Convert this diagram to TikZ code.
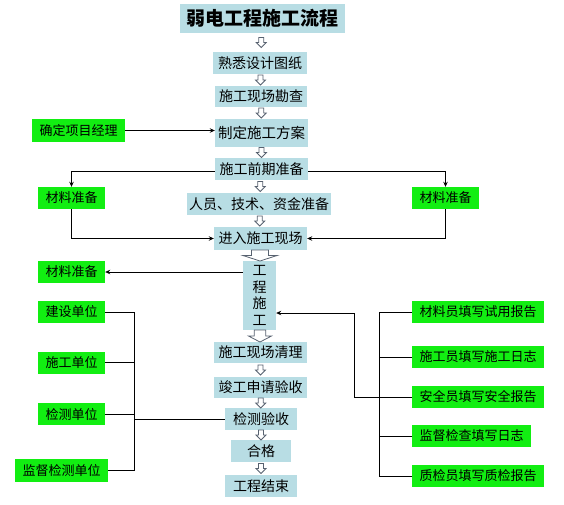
\documentclass[tikz,border=0pt]{standalone}
\usepackage{fontspec}
\usepackage{tikz}
\usetikzlibrary{positioning,calc,arrows.meta}
\usepackage{xcolor}
\newfontfamily\cjk{Noto Sans CJK SC}
\definecolor{boxblue}{RGB}{184,221,228}
\definecolor{notegreen}{RGB}{18,238,18}
\definecolor{arrowgray}{RGB}{88,98,112}
\tikzset{
  flowbox/.style={fill=boxblue,inner sep=0pt,font=\cjk\fontsize{14pt}{16.7pt}\selectfont},
  notebox/.style={fill=notegreen,inner sep=0pt,font=\cjk\fontsize{13pt}{15pt}\selectfont},
  wire/.style={draw=black,line width=0.8pt},
  hollow/.pic={\filldraw[fill=white,draw=arrowgray,line width=0.8pt]
    (-2.5,-5)--(2.5,-5)--(2.5,0)--(5,0)--(0,5)--(-5,0)--(-2.5,0)--cycle;}
}

\begin{document}
\begin{tikzpicture}[x=1pt,y=-1pt,>={Stealth[length=5pt,width=4.5pt]}]
\useasboundingbox (0,0) rectangle (564,504);
% main column
\node[flowbox,minimum width=165,minimum height=29,font=\cjk\bfseries\fontsize{19pt}{21pt}\selectfont] (title) at (262.5,18.5) {弱电工程施工流程};
\node[flowbox,minimum width=94,minimum height=22] (fam) at (260,63) {熟悉设计图纸};
\node[flowbox,minimum width=92,minimum height=21] (kan) at (261,96.5) {施工现场勘查};
\node[flowbox,minimum width=93,minimum height=28,font=\cjk\fontsize{14.5pt}{16pt}\selectfont] (fangan) at (261.5,133) {制定施工方案};
\node[flowbox,minimum width=93,minimum height=22] (qianqi) at (261.5,169) {施工前期准备};
\node[flowbox,minimum width=144,minimum height=22] (renyuan) at (259,204) {人员、技术、资金准备};
\node[flowbox,minimum width=93,minimum height=23] (jinru) at (260.5,238.5) {进入施工现场};
\node[flowbox,minimum width=33,minimum height=69,align=center] (shigong) at (259.5,295.5) {工\\程\\施\\工};
\node[flowbox,minimum width=93,minimum height=21] (qingli) at (260.5,352.5) {施工现场清理};
\node[flowbox,minimum width=93,minimum height=21] (jungong) at (260.5,387.5) {竣工申请验收};
\node[flowbox,minimum width=72,minimum height=22] (jiance) at (261,419) {检测验收};
\node[flowbox,minimum width=60,minimum height=22] (hege) at (261,451) {合格};
\node[flowbox,minimum width=72,minimum height=22] (jieshu) at (261,486) {工程结束};

% hollow arrows
\pic at ($(title.south)!.5!(fam.north)$) {hollow};
\pic at ($(fam.south)!.5!(kan.north)$) {hollow};
\pic at ($(kan.south)!.5!(fangan.north)$) {hollow};
\pic at ($(fangan.south)!.5!(qianqi.north)$) {hollow};
\pic at ($(qianqi.south)!.5!(renyuan.north)$) {hollow};
\pic at ($(renyuan.south)!.5!(jinru.north)$) {hollow};
\pic[xscale=3.4,yscale=1.1] at ($(jinru.south)!.5!(shigong.north)$) {hollow};
\pic[xscale=2.3,yscale=1.2] at ($(shigong.south)!.5!(qingli.north)$) {hollow};
\pic at ($(qingli.south)!.5!(jungong.north)$) {hollow};
\pic at ($(jungong.south)!.5!(jiance.north)$) {hollow};
\pic at ($(jiance.south)!.5!(hege.north)$) {hollow};
\pic at ($(hege.south)!.5!(jieshu.north)$) {hollow};

% left side
\node[notebox,minimum width=93,minimum height=23] (jingli) at (78.5,130.5) {确定项目经理};
\node[notebox,minimum width=67,minimum height=22] (cailiaoL) at (71.5,198) {材料准备};
\node[notebox,minimum width=67,minimum height=22] (cailiaoR) at (445.5,198) {材料准备};
\node[notebox,minimum width=67,minimum height=22] (cailiaoS) at (71.5,272) {材料准备};
\node[notebox,minimum width=67,minimum height=22] (jianshe) at (71.5,312) {建设单位};
\node[notebox,minimum width=67,minimum height=22] (sgdw) at (71.5,362.5) {施工单位};
\node[notebox,minimum width=67,minimum height=22] (jcdw) at (71.5,414) {检测单位};
\node[notebox,minimum width=93,minimum height=23] (jddw) at (61.5,470.5) {监督检测单位};

\draw[wire,->] (jingli.east) -- (jingli.east -| fangan.west);
\draw[wire,->] (qianqi.west |- 0,171) -| (cailiaoL.north);
\draw[wire,->] (qianqi.east |- 0,171) -| (cailiaoR.north);
\draw[wire,->] (cailiaoL.south) |- (jinru.west);
\draw[wire,->] (cailiaoR.south) |- (jinru.east);
\draw[wire,->] (shigong.west |- cailiaoS.east) -- (cailiaoS.east);

\coordinate (lbus) at (134,419);
\draw[wire] (jianshe.east) -- (jianshe.east -| lbus);
\draw[wire] (sgdw.east) -- (sgdw.east -| lbus);
\draw[wire] (jcdw.east) -- (jcdw.east -| lbus);
\draw[wire] (jddw.east) -- (jddw.east -| lbus);
\draw[wire] (jianshe.east -| lbus) -- (jddw.east -| lbus);
\draw[wire] (lbus) -- (jiance.west);

% right side
\node[notebox,minimum width=132,minimum height=22] (cly) at (478,312) {材料员填写试用报告};
\node[notebox,minimum width=132,minimum height=22] (sgy) at (478,357) {施工员填写施工日志};
\node[notebox,minimum width=132,minimum height=22] (aqy) at (478,397) {安全员填写安全报告};
\node[notebox,minimum width=119,minimum height=22] (jdjc) at (471.5,436) {监督检查填写日志};
\node[notebox,minimum width=132,minimum height=22] (zjy) at (478,476) {质检员填写质检报告};

\coordinate (rbus) at (379,312);
\draw[wire] (cly.west) -- (cly.west -| rbus);
\draw[wire] (sgy.west) -- (sgy.west -| rbus);
\draw[wire] (aqy.west) -- (aqy.west -| rbus);
\draw[wire] (jdjc.west) -- (jdjc.west -| rbus);
\draw[wire] (zjy.west) -- (zjy.west -| rbus);
\draw[wire] (cly.west -| rbus) -- (zjy.west -| rbus);
\coordinate (bend) at (354,313);
\draw[wire,->] (aqy.west) -| (bend) -- (shigong.east |- bend);
\end{tikzpicture}
\end{document}
